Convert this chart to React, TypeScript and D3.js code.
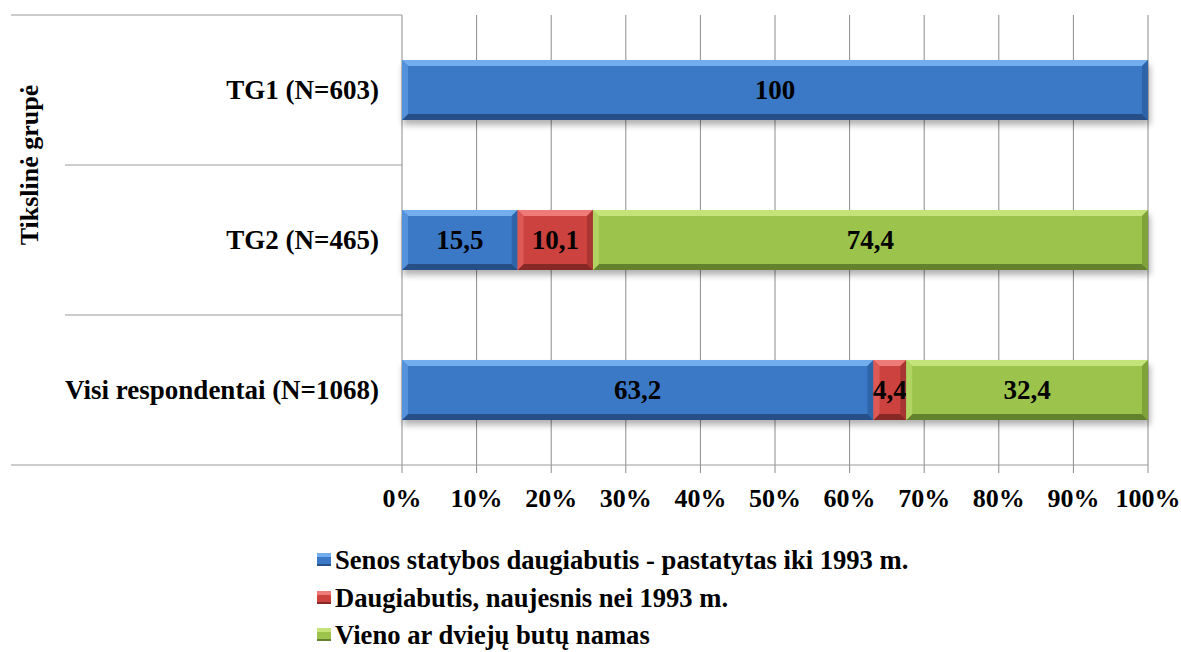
import React from "react";
import * as d3 from "d3";

const categories = ["TG1 (N=603)", "TG2 (N=465)", "Visi respondentai (N=1068)"];
const seriesNames = [
  "Senos statybos daugiabutis - pastatytas iki 1993 m.",
  "Daugiabutis, naujesnis nei 1993 m.",
  "Vieno ar dviejų butų namas",
];
const seniValues = [100, 15.5, 63.2];
const naujiValues = [0, 10.1, 4.4];
const namasValues = [0, 74.4, 32.4];
const xTicks = [0, 10, 20, 30, 40, 50, 60, 70, 80, 90, 100];
const yTitle = "Tikslinė grupė";

const palettes = [
  { main: "#3B79C6", top: "#72AEEE", left: "#5592DC", right: "#2F65A8", bottom: "#254F86" },
  { main: "#CC423F", top: "#EE7B77", left: "#DC5956", right: "#A83532", bottom: "#862826" },
  { main: "#9CC34B", top: "#C4E47A", left: "#B0D361", right: "#7FA23A", bottom: "#64812D" },
];

const FONT = "Liberation Serif";

export default function App() {
  const W = 1181, H = 652;
  const left = 402, right = 1148, top = 15, bottom = 465;
  const x = d3.scaleLinear().domain([0, 100]).range([left, right]);
  const y = d3.scaleBand().domain(categories).range([top, bottom]).paddingInner(0.6).paddingOuter(0.3);
  const band = d3.scaleBand().domain(categories).range([top, bottom]);
  const series = [seniValues, naujiValues, namasValues];
  const stack = categories.map((c, i) => {
    let acc = 0;
    return series.map((s, k) => {
      const v = s[i];
      const seg = { k, v, x0: acc, x1: acc + v, cat: c };
      acc += v;
      return seg;
    });
  });
  const b = 6;
  const pts = (a: number[][]) => a.map((q) => q.join(",")).join(" ");
  const legendRows = [560, 598, 635];

  return (
    <svg width={W} height={H} style={{ position: "absolute", left: 0, top: 0, background: "#fff" }}>
      <defs>
        <filter id="sh" x="-5%" y="-30%" width="110%" height="180%">
          <feGaussianBlur stdDeviation="3" />
        </filter>
      </defs>
      {xTicks.map((t) => (
        <line key={t} x1={x(t)} x2={x(t)} y1={top} y2={bottom + 8} stroke="#8c8c8c" strokeWidth={1} />
      ))}
      <line x1={11} x2={left} y1={top} y2={top} stroke="#9a9a9a" />
      {categories.slice(1).map((c) => (
        <line key={c} x1={65} x2={left} y1={band(c)} y2={band(c)} stroke="#9a9a9a" />
      ))}
      <line x1={11} x2={right} y1={bottom} y2={bottom} stroke="#9a9a9a" />
      {stack.map((segs, i) => {
        const y0 = y(categories[i])!;
        const y1 = y0 + y.bandwidth();
        const total = segs[segs.length - 1].x1;
        return (
          <g key={i}>
            <rect x={x(0) + 1} y={y0 + 5} width={x(total) - x(0) + 1} height={y1 - y0} fill="#000" opacity={0.3} filter="url(#sh)" />
            {segs.filter((s) => s.v > 0).map((s) => {
              const p = palettes[s.k];
              const X0 = x(s.x0), X1 = x(s.x1);
              return (
                <g key={s.k}>
                  <rect x={X0} y={y0} width={X1 - X0} height={y1 - y0} fill={p.main} />
                  <polygon points={pts([[X0, y0], [X1, y0], [X1 - b, y0 + b], [X0 + b, y0 + b]])} fill={p.top} />
                  <polygon points={pts([[X0, y1], [X1, y1], [X1 - b, y1 - b], [X0 + b, y1 - b]])} fill={p.bottom} />
                  <polygon points={pts([[X0, y0], [X0 + b, y0 + b], [X0 + b, y1 - b], [X0, y1]])} fill={p.left} />
                  <polygon points={pts([[X1, y0], [X1 - b, y0 + b], [X1 - b, y1 - b], [X1, y1]])} fill={p.right} />
                  <text x={(X0 + X1) / 2} y={(y0 + y1) / 2} dy="0.35em" textAnchor="middle" fontSize={27} fontWeight="bold" fontFamily={FONT} fill="#000">
                    {String(s.v).replace(".", ",")}
                  </text>
                </g>
              );
            })}
          </g>
        );
      })}
      {categories.map((c) => (
        <text key={c} x={379} y={y(c)! + y.bandwidth() / 2} dy="0.35em" textAnchor="end" fontSize={27} fontWeight="bold" fontFamily={FONT} fill="#000">
          {c}
        </text>
      ))}
      {xTicks.map((t) => (
        <text key={t} x={x(t)} y={498} dy="0.35em" textAnchor="middle" fontSize={26} fontWeight="bold" fontFamily={FONT} fill="#000">
          {t + "%"}
        </text>
      ))}
      <text transform={`translate(29,165) rotate(-90)`} dy="0.35em" textAnchor="middle" fontSize={26} fontWeight="bold" fontFamily={FONT} fill="#000">
        {yTitle}
      </text>
      {seriesNames.map((n, k) => {
        const ly = legendRows[k];
        const p = palettes[k];
        return (
          <g key={n}>
            <rect x={317} y={ly - 7} width={14} height={13} fill={p.main} />
            <rect x={317} y={ly - 7} width={14} height={4} fill={p.top} />
            <rect x={317} y={ly + 4} width={14} height={2} fill={p.bottom} />
            <text x={335} y={ly} dy="0.35em" fontSize={26.6} fontWeight="bold" fontFamily={FONT} fill="#000">
              {n}
            </text>
          </g>
        );
      })}
    </svg>
  );
}
